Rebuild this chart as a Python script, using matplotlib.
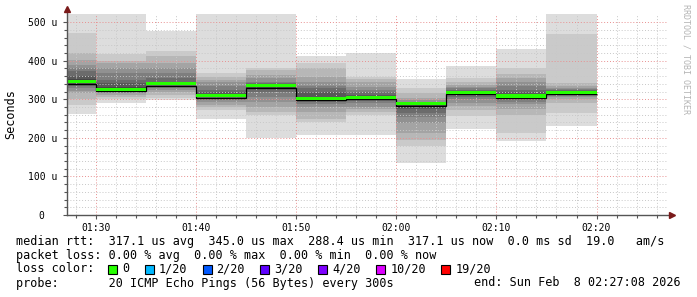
import datetime as dt

import matplotlib
matplotlib.use("Agg")
import matplotlib.pyplot as plt
import matplotlib.dates as mdates
import numpy as np
from matplotlib.patches import Rectangle

W, H = 697, 297
MONO = "DejaVu Sans Mono"

# one 5 minute slot per smoke bar (20 pings each, sorted, in microseconds)
slot_starts = ["01:25", "01:30", "01:35", "01:40", "01:45", "01:50",
               "01:55", "02:00", "02:05", "02:10", "02:15"]
rtt_pings = [
    [262, 285, 300, 315, 322, 330, 335, 338, 341, 343, 347, 352, 360, 372, 380, 390, 402, 420, 472, 540],
    [290, 300, 307, 312, 316, 318, 320, 322, 323, 324, 328, 333, 342, 350, 369, 380, 394, 400, 417, 540],
    [298, 303, 311, 318, 325, 330, 333, 336, 338, 339, 341, 343, 346, 355, 368, 381, 395, 411, 424, 478],
    [250, 273, 280, 286, 294, 298, 302, 305, 307, 308, 310, 313, 318, 325, 335, 346, 350, 359, 369, 540],
    [200, 260, 268, 281, 294, 307, 320, 326, 330, 333, 336, 338, 340, 342, 346, 355, 363, 375, 381, 540],
    [208, 240, 250, 268, 281, 288, 294, 297, 299, 300, 303, 306, 318, 329, 335, 346, 359, 380, 394, 411],
    [208, 260, 268, 275, 281, 290, 295, 299, 302, 304, 306, 308, 312, 320, 325, 333, 346, 352, 359, 421],
    [135, 178, 195, 213, 238, 255, 264, 275, 281, 286, 289, 290, 291, 292, 294, 298, 303, 316, 329, 352],
    [224, 256, 273, 282, 290, 300, 306, 310, 314, 316, 319, 320, 322, 325, 329, 333, 337, 346, 355, 387],
    [191, 213, 260, 275, 288, 294, 300, 303, 305, 306, 310, 312, 318, 325, 335, 346, 355, 365, 381, 430],
    [231, 264, 290, 300, 305, 309, 312, 314, 316, 317, 318, 319, 321, 323, 326, 330, 335, 342, 469, 525],
]

y_ticks = [0, 100, 200, 300, 400, 500]
y_tick_labels = ["0  ", "100 u", "200 u", "300 u", "400 u", "500 u"]

loss_labels = ["0", "1/20", "2/20", "3/20", "4/20", "10/20", "19/20"]
loss_colors = ["#26ff00", "#00b8ff", "#0059ff", "#5e00ff", "#7e00ff", "#dd00ff", "#ff0000"]

legend_lines = [
    "median rtt:  317.1 us avg  345.0 us max  288.4 us min  317.1 us now  0.0 ms sd  19.0   am/s",
    "packet loss: 0.00 % avg  0.00 % max  0.00 % min  0.00 % now",
]
probe_text = "probe:       20 ICMP Echo Pings (56 Bytes) every 300s"
end_text = "end: Sun Feb  8 02:27:08 2026"

day = dt.date(2026, 2, 8)
t_end = dt.datetime(2026, 2, 8, 2, 27, 8)
t_begin = t_end - dt.timedelta(hours=1)


def fx(x):
    return x / W


def fy(y):
    return 1 - y / H


starts = [dt.datetime.combine(day, dt.datetime.strptime(s, "%H:%M").time()) for s in slot_starts]
x0 = mdates.date2num(starts)
step = 5 / (24 * 60)
edges = np.append(x0, x0[-1] + step)
pings = np.array(rtt_pings, dtype=float)
median = np.median(pings, axis=1)

fig = plt.figure(figsize=(W / 100, H / 100), dpi=100)
ax = fig.add_axes([fx(67), fy(215), (668 - 67) / W, (215 - 14.4) / H])

# smoke: outer pairs light, inner pairs dark
half = pings.shape[1] // 2
for i in range(1, half + 1):
    g = int(190 / half * (half - i)) + 50
    lo = pings[:, i - 1]
    hi = pings[:, -i]
    ax.bar(x0, hi - lo, bottom=lo, width=step, align="edge",
           color="#%02x%02x%02x" % (g, g, g), linewidth=0, zorder=1)

ax.stairs(median - 4.5, edges, baseline=None, color="black", lw=0.9, zorder=3)
ax.bar(x0, 8, bottom=median - 3.5, width=step, align="edge",
       color=loss_colors[0], linewidth=0, zorder=4)

ax.set_xlim(mdates.date2num(t_begin), mdates.date2num(t_end))
ax.set_ylim(0, 520)

ax.xaxis_date()
ax.xaxis.set_major_locator(mdates.MinuteLocator(byminute=range(0, 60, 10)))
ax.xaxis.set_minor_locator(mdates.MinuteLocator(byminute=range(0, 60, 2)))
ax.xaxis.set_major_formatter(mdates.DateFormatter("%H:%M"))
ax.set_yticks(y_ticks)
ax.set_yticks(np.arange(0, 520, 20), minor=True)
ax.set_yticklabels(y_tick_labels)

ax.set_axisbelow(False)
ax.grid(which="minor", color="#c8c8c8", linestyle=(0, (1, 2)), lw=0.7)
ax.grid(which="major", color="#e89090", linestyle=(0, (1, 2)), lw=0.7)

for s in ax.spines.values():
    s.set_visible(False)
ax.tick_params(which="both", direction="out", color="#555555", width=0.8)
ax.tick_params(which="major", length=3)
ax.tick_params(which="minor", length=2)
ax.tick_params(axis="y", pad=4.2, labelsize=7)
ax.tick_params(axis="x", pad=2.5, labelsize=7)
for lbl in ax.get_xticklabels() + ax.get_yticklabels():
    lbl.set_fontfamily(MONO)

# axes with arrow heads
ax.plot([0, 0], [0, 1.025], transform=ax.transAxes, color="#555555", lw=1,
        clip_on=False, zorder=5)
ax.plot([0, 1.007], [0, 0], transform=ax.transAxes, color="#555555", lw=1,
        clip_on=False, zorder=5)
ax.plot([0], [1.025], marker="^", ms=4, color="#7a1a1a", transform=ax.transAxes,
        clip_on=False, zorder=6)
ax.plot([1.007], [0], marker=">", ms=4, color="#7a1a1a", transform=ax.transAxes,
        clip_on=False, zorder=6)

fig.text(fx(11), fy(114), "Seconds", rotation=90, ha="center", va="center",
         fontsize=8.5, family=MONO)
fig.text(fx(686), fy(4), "RRDTOOL / TOBI OETIKER", rotation=270, ha="center",
         va="top", fontsize=6, family=MONO, color="#b4b4b4")

# legend block
fs = 8.5
charw = 0.602 * fs * 100 / 72
for k, line in enumerate(legend_lines):
    fig.text(fx(16), fy(241 + 14 * k), line, ha="left", va="center", fontsize=fs, family=MONO)

fig.text(fx(16), fy(269), "loss color:", ha="left", va="center", fontsize=fs, family=MONO)
bx = 108
for lab, col in zip(loss_labels, loss_colors):
    fig.add_artist(Rectangle((fx(bx), fy(273.5)), 9 / W, 9 / H, transform=fig.transFigure,
                             facecolor=col, edgecolor="black", lw=0.8))
    fig.text(fx(bx + 14), fy(269), lab, ha="left", va="center", fontsize=fs, family=MONO)
    bx += 14 + len(lab) * charw + 15.5

fig.text(fx(16), fy(283), probe_text, ha="left", va="center", fontsize=fs, family=MONO)
fig.text(fx(681), fy(283), end_text, ha="right", va="center", fontsize=fs, family=MONO)

fig.savefig("out.png", dpi=100, facecolor="white")
